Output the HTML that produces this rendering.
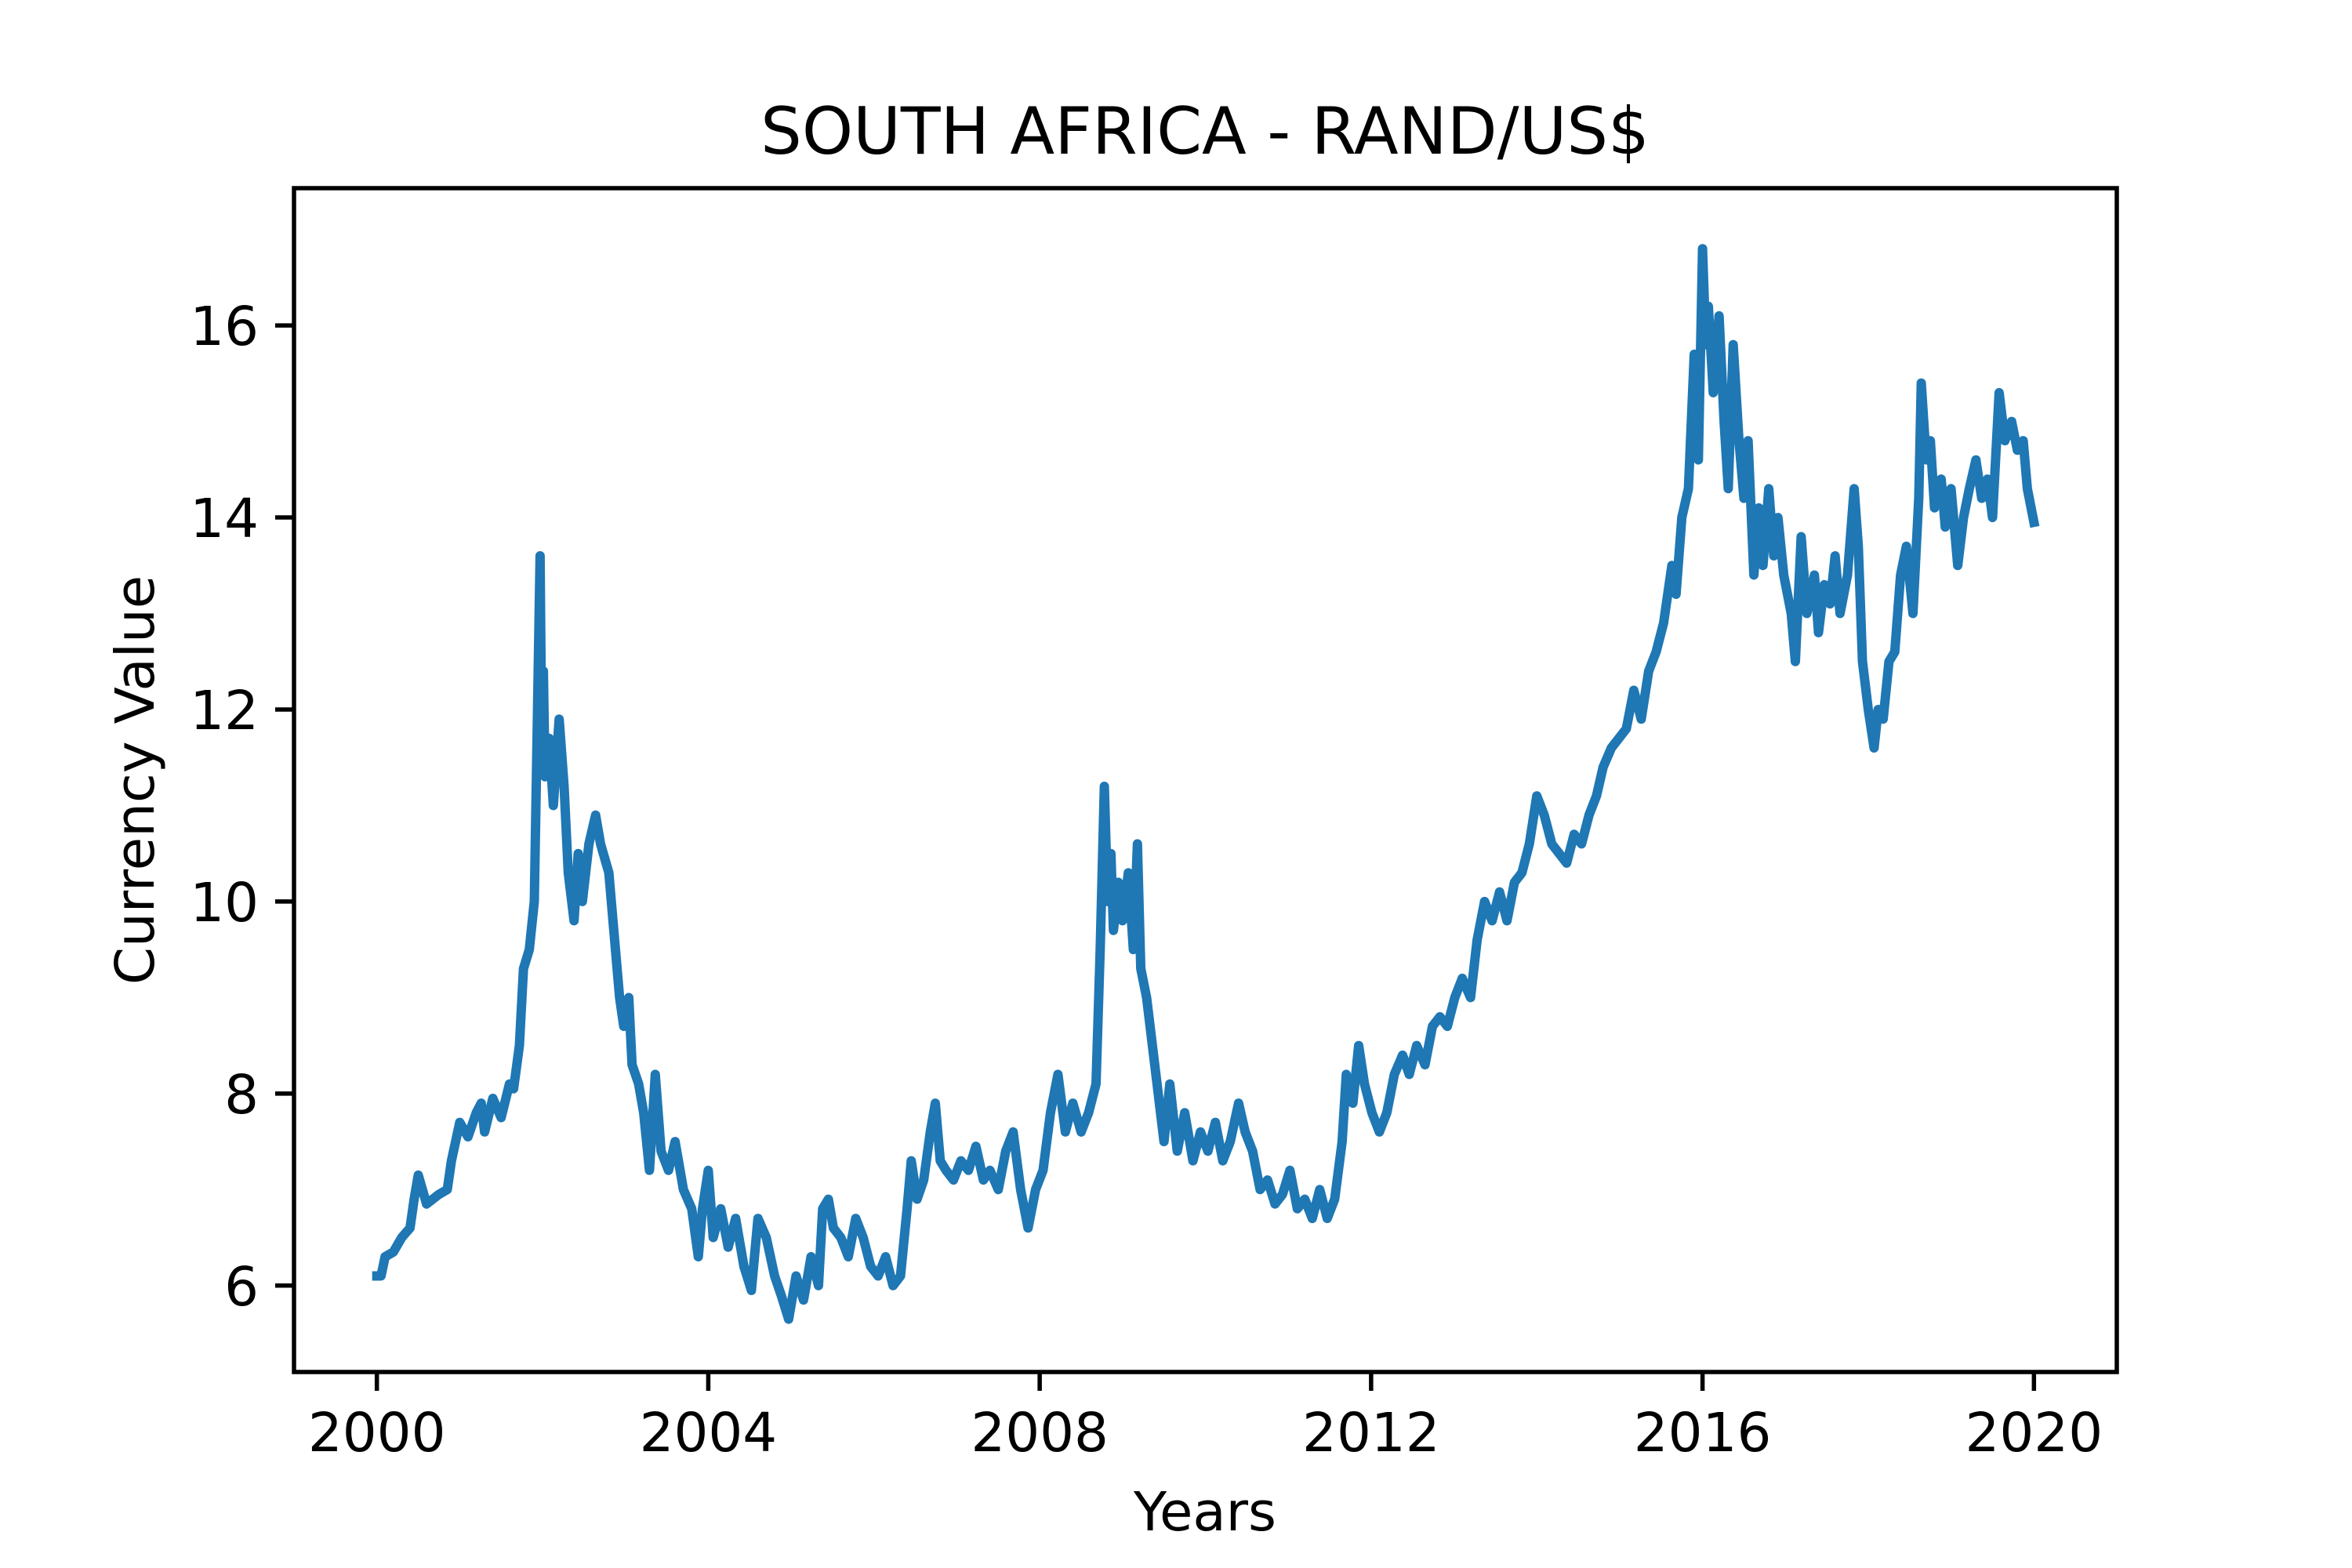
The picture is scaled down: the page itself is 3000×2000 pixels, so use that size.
<!DOCTYPE html>
<html><head><meta charset="utf-8"><style>
html,body{margin:0;padding:0;background:#fff;width:3000px;height:2000px;overflow:hidden}
svg{display:block}
text{font-family:"DejaVu Sans","Liberation Sans",sans-serif;fill:#000}
</style></head><body>
<svg id="chart" width="3000" height="2000" viewBox="0 0 3000 2000">
<text x="1537" y="196" font-size="83" text-anchor="middle">SOUTH AFRICA - RAND/US$</text>
<g id="plot"></g>
<rect x="375" y="240" width="2325" height="1510" fill="none" stroke="#000" stroke-width="5.5"/>
<g id="xticks"></g>
<g id="yticks"></g>
<text x="1537" y="1952" font-size="69" text-anchor="middle">Years</text>
<text transform="translate(196,995) rotate(-90)" font-size="69" text-anchor="middle">Currency Value</text>
</svg>
<script>
const years=[2000.0,2000.05,2000.1,2000.2,2000.3,2000.4,2000.45,2000.5,2000.6,2000.75,2000.85,2000.9,2001.0,2001.1,2001.2,2001.26,2001.3,2001.4,2001.5,2001.6,2001.65,2001.72,2001.77,2001.84,2001.9,2001.93,2001.97,2001.99,2002.01,2002.03,2002.08,2002.13,2002.2,2002.26,2002.31,2002.38,2002.43,2002.48,2002.56,2002.64,2002.7,2002.8,2002.86,2002.93,2002.98,2003.04,2003.08,2003.16,2003.22,2003.29,2003.36,2003.43,2003.52,2003.6,2003.7,2003.8,2003.88,2003.93,2004.0,2004.06,2004.15,2004.24,2004.33,2004.43,2004.52,2004.6,2004.7,2004.8,2004.88,2004.97,2005.06,2005.15,2005.24,2005.33,2005.38,2005.45,2005.51,2005.6,2005.69,2005.78,2005.87,2005.96,2006.05,2006.14,2006.23,2006.32,2006.4,2006.45,2006.52,2006.6,2006.68,2006.74,2006.8,2006.87,2006.96,2007.05,2007.14,2007.23,2007.32,2007.4,2007.5,2007.59,2007.68,2007.77,2007.86,2007.95,2008.04,2008.13,2008.22,2008.31,2008.4,2008.5,2008.59,2008.68,2008.73,2008.78,2008.82,2008.86,2008.89,2008.95,2009.0,2009.07,2009.13,2009.18,2009.22,2009.29,2009.36,2009.43,2009.5,2009.57,2009.66,2009.75,2009.85,2009.94,2010.03,2010.12,2010.21,2010.3,2010.4,2010.48,2010.57,2010.66,2010.75,2010.84,2010.93,2011.02,2011.11,2011.2,2011.29,2011.38,2011.47,2011.56,2011.65,2011.7,2011.78,2011.85,2011.92,2012.01,2012.1,2012.19,2012.28,2012.38,2012.46,2012.55,2012.65,2012.74,2012.83,2012.92,2013.01,2013.1,2013.2,2013.28,2013.37,2013.46,2013.55,2013.64,2013.73,2013.82,2013.91,2014.0,2014.09,2014.18,2014.27,2014.36,2014.45,2014.54,2014.63,2014.72,2014.8,2014.9,2014.99,2015.08,2015.17,2015.26,2015.35,2015.44,2015.53,2015.63,2015.68,2015.75,2015.83,2015.9,2015.95,2016.0,2016.04,2016.07,2016.13,2016.2,2016.26,2016.31,2016.37,2016.44,2016.5,2016.55,2016.62,2016.68,2016.73,2016.8,2016.86,2016.91,2016.98,2017.07,2017.12,2017.19,2017.26,2017.35,2017.4,2017.47,2017.54,2017.6,2017.66,2017.75,2017.83,2017.88,2017.93,2018.0,2018.07,2018.12,2018.18,2018.25,2018.32,2018.39,2018.46,2018.54,2018.61,2018.64,2018.7,2018.75,2018.8,2018.88,2018.93,2019.0,2019.08,2019.15,2019.22,2019.3,2019.37,2019.44,2019.5,2019.58,2019.65,2019.73,2019.8,2019.87,2019.92,2020.0];
const values=[6.1,6.1,6.3,6.35,6.5,6.6,6.9,7.15,6.85,6.95,7.0,7.3,7.7,7.55,7.8,7.9,7.6,7.95,7.75,8.1,8.05,8.5,9.3,9.5,10.0,11.5,13.6,11.6,12.4,11.3,11.7,11.0,11.9,11.2,10.3,9.8,10.5,10.0,10.6,10.9,10.6,10.3,9.7,9.0,8.7,9.0,8.3,8.1,7.8,7.2,8.2,7.4,7.2,7.5,7.0,6.8,6.3,6.8,7.2,6.5,6.8,6.4,6.7,6.2,5.95,6.7,6.5,6.1,5.9,5.65,6.1,5.85,6.3,6.0,6.8,6.9,6.6,6.5,6.3,6.7,6.5,6.2,6.1,6.3,6.0,6.1,6.8,7.3,6.9,7.1,7.6,7.9,7.3,7.2,7.1,7.3,7.2,7.45,7.1,7.2,7.0,7.4,7.6,7.0,6.6,7.0,7.2,7.8,8.2,7.6,7.9,7.6,7.8,8.1,9.5,11.2,10.0,10.5,9.7,10.2,9.8,10.3,9.5,10.6,9.3,9.0,8.5,8.0,7.5,8.1,7.4,7.8,7.3,7.6,7.4,7.7,7.3,7.5,7.9,7.6,7.4,7.0,7.1,6.85,6.95,7.2,6.8,6.9,6.7,7.0,6.7,6.9,7.5,8.2,7.9,8.5,8.1,7.8,7.6,7.8,8.2,8.4,8.2,8.5,8.3,8.7,8.8,8.7,9.0,9.2,9.0,9.6,10.0,9.8,10.1,9.8,10.2,10.3,10.6,11.1,10.9,10.6,10.5,10.4,10.7,10.6,10.9,11.1,11.4,11.6,11.7,11.8,12.2,11.9,12.4,12.6,12.9,13.5,13.2,14.0,14.3,15.7,14.6,16.8,15.8,16.2,15.3,16.1,15.0,14.3,15.8,14.8,14.2,14.8,13.4,14.1,13.5,14.3,13.6,14.0,13.4,13.0,12.5,13.8,13.0,13.4,12.8,13.3,13.1,13.6,13.0,13.4,14.3,13.7,12.5,12.0,11.6,12.0,11.9,12.5,12.6,13.4,13.7,13.0,14.2,15.4,14.6,14.8,14.1,14.4,13.9,14.3,13.5,14.0,14.3,14.6,14.2,14.4,14.0,15.3,14.8,15.0,14.7,14.8,14.3,13.95];
const xTickLabels=["2000","2004","2008","2012","2016","2020"];
const yTickLabels=["6","8","10","12","14","16"];

const NS="http://www.w3.org/2000/svg";
const X0=375,X1=2700,Y0=1750,Y1=240;
const xmin=1999.0,xmax=2021.0,ymin=5.10,ymax=17.43;
function xs(v){return X0+(v-xmin)/(xmax-xmin)*(X1-X0);}
function ys(v){return Y0-(v-ymin)/(ymax-ymin)*(Y0-Y1);}

const plot=document.getElementById('plot');
let d='';
for(let i=0;i<years.length;i++){d+=(i?'L':'M')+xs(years[i]).toFixed(1)+' '+ys(values[i]).toFixed(1);}
const line=document.createElementNS(NS,'path');
line.setAttribute('d',d);
line.setAttribute('fill','none');
line.setAttribute('stroke','#1f77b4');
line.setAttribute('stroke-width','12');
line.setAttribute('stroke-linejoin','round');
line.setAttribute('stroke-linecap','square');


plot.appendChild(line);

const xg=document.getElementById('xticks');
xTickLabels.forEach(function(t){
  const x=xs(parseFloat(t));
  const tk=document.createElementNS(NS,'line');
  tk.setAttribute('x1',x);tk.setAttribute('x2',x);tk.setAttribute('y1',Y0);tk.setAttribute('y2',Y0+24);
  tk.setAttribute('stroke','#000');tk.setAttribute('stroke-width','5.5');
  
  
  xg.appendChild(tk);
  const tx=document.createElementNS(NS,'text');
  tx.setAttribute('x',x);tx.setAttribute('y',Y0+101);tx.setAttribute('font-size','69');tx.setAttribute('text-anchor','middle');
  tx.textContent=t;
  
  
  xg.appendChild(tx);
});
const yg=document.getElementById('yticks');
yTickLabels.forEach(function(t){
  const y=ys(parseFloat(t));
  const tk=document.createElementNS(NS,'line');
  tk.setAttribute('x1',X0-24);tk.setAttribute('x2',X0);tk.setAttribute('y1',y);tk.setAttribute('y2',y);
  tk.setAttribute('stroke','#000');tk.setAttribute('stroke-width','5.5');
  
  
  yg.appendChild(tk);
  const tx=document.createElementNS(NS,'text');
  tx.setAttribute('x',X0-45);tx.setAttribute('y',y+25);tx.setAttribute('font-size','69');tx.setAttribute('text-anchor','end');
  tx.textContent=t;
  
  
  yg.appendChild(tx);
});
</script>
</body></html>
